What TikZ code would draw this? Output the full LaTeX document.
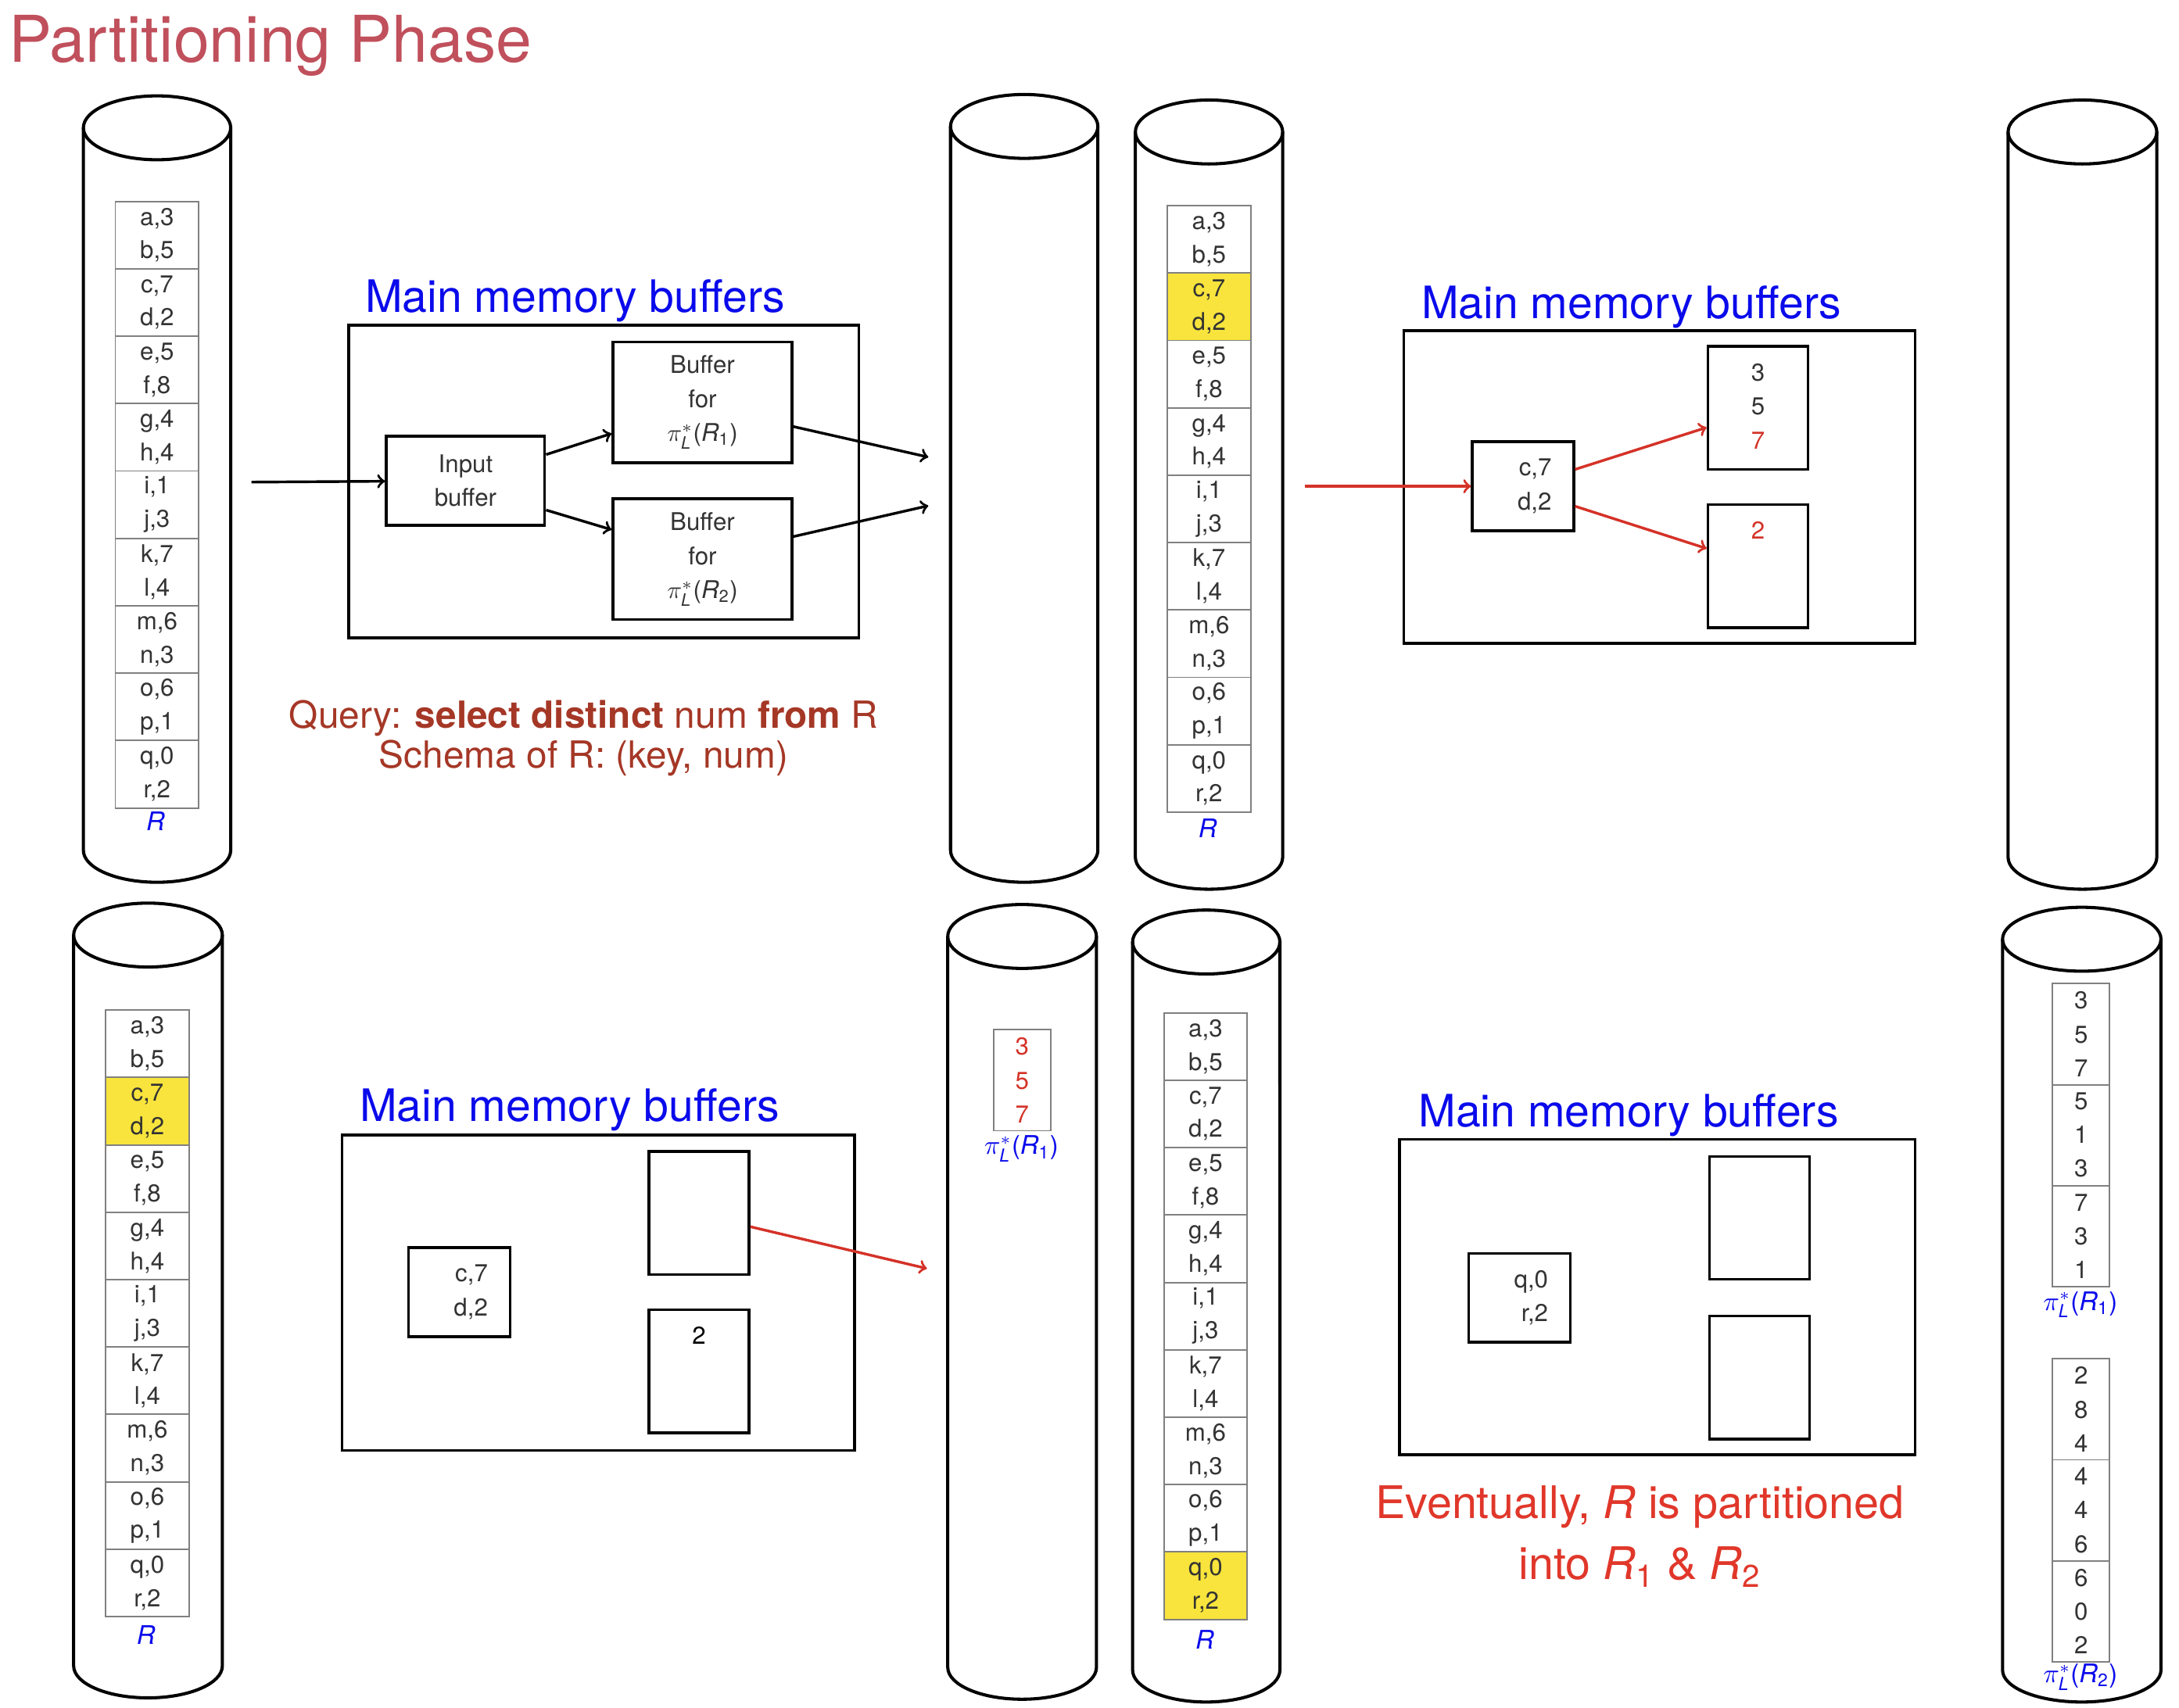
\documentclass[tikz,border=0pt]{standalone}
\usepackage{fontspec}
\setmainfont{TeX Gyre Heros}
\usepackage{amsmath}
\usepackage{tikz}

\definecolor{titlered}{RGB}{192,80,92}
\definecolor{memblue}{RGB}{10,10,235}
\definecolor{querybrown}{RGB}{165,55,38}
\definecolor{eventred}{RGB}{224,55,42}
\definecolor{numred}{RGB}{212,50,40}
\definecolor{hilite}{RGB}{248,228,60}

\newcommand{\projR}[1]{$\pi^*_{\textit{L}}$(\textit{R}\textsubscript{#1})}

\begin{document}
\begin{tikzpicture}[x=0.2mm, y=-0.2mm,
  cyl/.style={line width=1.3pt},
  cell/.style={draw=black!50, line width=0.6pt, minimum width=12mm, minimum height=9.7mm,
    inner sep=0pt, align=center, text=black!80, font=\fontsize{10}{13.7}\selectfont},
  numcell/.style={cell, minimum width=8.2mm, minimum height=14.54mm, font=\fontsize{10}{13.8}\selectfont},
  membox/.style={line width=1.1pt},
  buf/.style={draw, line width=1.1pt, inner sep=0pt, align=center, text=black!80, font=\fontsize{10}{13.9}\selectfont},
  inbox/.style={buf, text width=8.2mm, inner xsep=3.2mm, align=right, minimum height=12.8mm},
  slot/.style={buf, minimum width=14.4mm, minimum height=17.7mm},
  bufnum/.style={inner sep=0pt, align=center, text=black!80, font=\fontsize{10}{13.9}\selectfont},
  memlabel/.style={anchor=base, inner sep=0pt, text=memblue, font=\fontsize{18.3}{22}\selectfont},
  query/.style={anchor=base, inner sep=0pt, text=querybrown, font=\fontsize{15.3}{18}\selectfont},
  eventual/.style={anchor=base, inner sep=0pt, text=eventred, font=\fontsize{18.4}{22}\selectfont},
  rlab/.style={inner sep=0pt, text=memblue, font=\fontsize{10.5}{12}\selectfont},
  flow/.style={->, line width=1.1pt},
  redflow/.style={flow, draw=numred}]

  \useasboundingbox (0,0) rectangle (1568,1229);

  % Title
  \node[anchor=base west, inner sep=0pt, text=titlered, font=\fontsize{26.4}{30}\selectfont] (title) at (6,45) {Partitioning Phase};

  % Disks
  \foreach \xl/\xr/\yt/\yb in {60/166/92/612, 684/790/91/612, 817/923/95/617, 1445/1552/95/617,
      53/160/673/1199, 682/789/674/1200, 815/921/678/1202, 1441/1555/676/1202} {
    \draw[cyl] (\xl,\yt) -- (\xl,\yb)
      arc[start angle=180, end angle=360, x radius={(\xr-\xl)*0.1mm}, y radius=4.6mm] -- (\xr,\yt);
    \draw[cyl] ({(\xl+\xr)/2},\yt) ellipse[x radius={(\xr-\xl)*0.1mm}, y radius=4.6mm];
  }

  % Relation R on the disks, one block per cell
  \foreach \tb/\cx/\ty/\hl in {A/113/145/0, C/870/148/2, E/106/727/2, G/867.5/729/9} {
    \foreach \ka/\va/\kb/\vb [count=\i] in {a/3/b/5, c/7/d/2, e/5/f/8, g/4/h/4, i/1/j/3,
        k/7/l/4, m/6/n/3, o/6/p/1, q/0/r/2} {
      \ifnum\i=\hl\relax \def\cellbg{hilite}\else \def\cellbg{white}\fi
      \node[cell, fill=\cellbg] (\tb\i) at (\cx,{\ty+(\i-0.5)*48.5}) {\ka,\va\\\kb,\vb};
    }
  }

  % Partitions written back
  \node[numcell, text=numred] (F1) at (735.5,777.5) {3\\5\\7};
  \foreach \ra/\rb/\rc [count=\i] in {3/5/7, 5/1/3, 7/3/1}
    \node[numcell] (H\i) at (1497.5,{708+(\i-0.5)*72.7}) {\ra\\\rb\\\rc};
  \foreach \ra/\rb/\rc [count=\i] in {2/8/4, 4/4/6, 6/0/2}
    \node[numcell] (K\i) at (1497.5,{978+(\i-0.5)*72.7}) {\ra\\\rb\\\rc};

  % Labels under the blocks
  \node[rlab] (RA) at (112,591) {\textit{R}};
  \node[rlab] (RC) at (869,596) {\textit{R}};
  \node[rlab] (RE) at (105,1177) {\textit{R}};
  \node[rlab] (RG) at (867,1180) {\textit{R}};
  \node[rlab] (PF) at (735,827) {\projR{1}};
  \node[rlab] (PH1) at (1497,939) {\projR{1}};
  \node[rlab] (PH2) at (1497,1207) {\projR{2}};

  % Main memory, first step
  \draw[membox] (251,234) rectangle (618,459);
  \node[memlabel] (mmA) at (414,225) {Main memory buffers};
  \node[buf, minimum width=22.8mm, minimum height=12.8mm] (in1) at (335,346) {Input\\buffer};
  \node[buf, minimum width=25.8mm, minimum height=17.4mm] (b1) at (505.5,289.5) {Buffer\\for\\\projR{1}};
  \node[buf, minimum width=25.8mm, minimum height=17.4mm] (b2) at (505.5,402.5) {Buffer\\for\\\projR{2}};
  \node[query] (qry) at (420,524) {Query: \textbf{select distinct} num \textbf{from} R};
  \node[query] (schema) at (420,553) {Schema of R: (key, num)};

  \coordinate (diskA) at (181,347);
  \coordinate (toB1) at (668,329);
  \coordinate (toB2) at (668,364);
  \draw[flow] (diskA) -- (in1);
  \draw[flow] (in1.18) -- (b1.199);
  \draw[flow] (in1.340) -- (b2.162);
  \draw[flow] (b1.345) -- (toB1);
  \draw[flow] (b2.14) -- (toB2);

  % Main memory, reading c,7 and d,2
  \draw[membox] (1010,238) rectangle (1378,463);
  \node[memlabel] (mmC) at (1174,229) {Main memory buffers};
  \node[inbox] (in2) at (1096,350) {c,7\\d,2};
  \node[slot] (p1) at (1265,293.5) {};
  \node[slot] (p2) at (1265,407.5) {};
  \node[bufnum, anchor=north] (p1t) at ([yshift=-2.6mm]p1.north) {3\\5\\\textcolor{numred}{7}};
  \node[bufnum, anchor=north, text=numred] (p2t) at ([yshift=-2.6mm]p2.north) {2};

  \coordinate (diskC) at (939,350);
  \draw[redflow] (diskC) -- (in2);
  \draw[redflow] (in2.18) -- (p1.201);
  \draw[redflow] (in2.339) -- (p2.161);

  % Main memory, flushing the full buffer
  \draw[membox] (246,817) rectangle (615,1044);
  \node[memlabel] (mmE) at (410,807) {Main memory buffers};
  \node[inbox] (in3) at (330.5,930) {c,7\\d,2};
  \node[slot] (q1) at (503,873) {};
  \node[slot] (q2) at (503,987) {};
  \node[bufnum, anchor=north, text=black] (q2t) at ([yshift=-2.6mm]q2.north) {2};

  \coordinate (toF) at (667,913);
  \draw[redflow] (q1.345) -- (toF);

  % Main memory, last block
  \draw[membox] (1007,820) rectangle (1378,1047);
  \node[memlabel] (mmG) at (1172,811) {Main memory buffers};
  \node[inbox] (in4) at (1093.5,934) {q,0\\r,2};
  \node[slot] (s1) at (1266,876.5) {};
  \node[slot] (s2) at (1266,991.5) {};
  \node[eventual] (ev1) at (1180,1093) {Eventually, \textit{R} is partitioned};
  \node[eventual] (ev2) at (1180,1137) {into \textit{R}\textsubscript{1} \& \textit{R}\textsubscript{2}};
\end{tikzpicture}
\end{document}
